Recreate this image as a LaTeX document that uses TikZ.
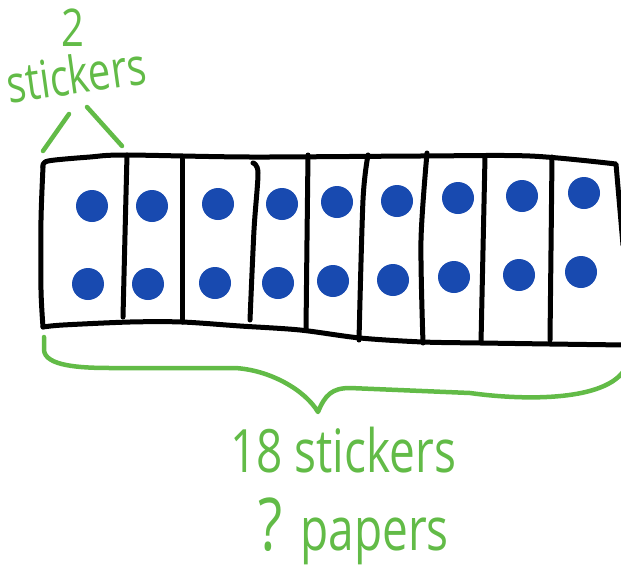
\documentclass[tikz,border=0pt]{standalone}
\usepackage{fontspec}
\setmainfont{Open Sans}
\usepackage{graphicx}
\usepackage{tikz}
\usetikzlibrary{positioning}
\definecolor{DotBlue}{RGB}{24,74,176}
\definecolor{NoteGreen}{RGB}{98,187,71}
\newcommand{\tallnote}[1]{\scalebox{1}[1.3]{#1}}

\begin{document}
\begin{tikzpicture}[
    x=1pt,y=-1pt,
    ink/.style={line width=5pt, line cap=round, line join=round, draw=black},
    note/.style={line width=4.5pt, line cap=round, line join=round, draw=NoteGreen},
    sticker/.style={circle, fill=DotBlue, inner sep=0pt, minimum size=32pt},
    smallnote/.style={text=NoteGreen, inner sep=0pt, font=\fontsize{40}{42}\selectfont},
    bignote/.style={text=NoteGreen, inner sep=0pt, font=\fontsize{46}{48}\selectfont}
  ]
    \useasboundingbox (0,0) rectangle (621,573);
    % paper strip
    \draw[ink] plot[smooth] coordinates {(43,167) (48,161) (90,157) (125,155) (250,157) (420,156) (530,156) (616,164)} -- (623,245);
    \draw[ink] plot[smooth] coordinates {(43,167) (41,220) (41,290) (43,327)};
    \draw[ink] plot[smooth] coordinates {(43,327) (63,325) (130,322) (182,322) (240,326) (300,330) (360,338) (423,342) (482,343) (550,344) (625,345)};
    \foreach \xt/\yt/\xm/\ym/\xb/\yb in {127/155/125/235/123/317, 182/159/182/240/182/322, 308/155/307/240/306/330, 368/155/363/200/359/340, 427/153/421/240/423/343, 485/157/483/250/481/343, 552/157/551/250/550/340} {
      \draw[ink] plot[smooth] coordinates {(\xt,\yt) (\xm,\ym) (\xb,\yb)};
    }
    \draw[ink] plot[smooth] coordinates {(253,163) (258,173) (254,230) (250,320)};
    % stickers
    \foreach \x/\y [count=\i] in {92/206, 152/206, 218/204, 282/204, 337/202, 397/201, 458/198, 522/196, 584/193,
                                  88/284, 148/284, 215/283, 278/283, 333/281, 393/280, 454/277, 519/275, 581/272} {
      \node[sticker] (s\i) at (\x,\y) {};
    }
    % labels
    \node[smallnote] (two) at (73,28) {\tallnote{2}};
    \node[smallnote, rotate=8] (pairlabel) at (76,74) {\tallnote{stickers}};
    \draw[note] (43,151) -- (69,114);
    \draw[note] (87,107) -- (122,146);
    \draw[note] (44,337) -- (44,350) .. controls (45,366) and (80,368) .. (110,368) -- (235,368) .. controls (270,370) and (305,390) .. (318,412) .. controls (325,395) and (332,388) .. (350,388) -- (470,393) .. controls (520,400) and (600,402) .. (623,372);
    \node[bignote, anchor=base west] (total) at (230,472) {\tallnote{18 stickers}};
    \node[bignote, anchor=base east] (papers) at (449,550) {\tallnote{{\fontsize{56}{56}\selectfont ?}\hskip 18pt papers}};
  \end{tikzpicture}
\end{document}
